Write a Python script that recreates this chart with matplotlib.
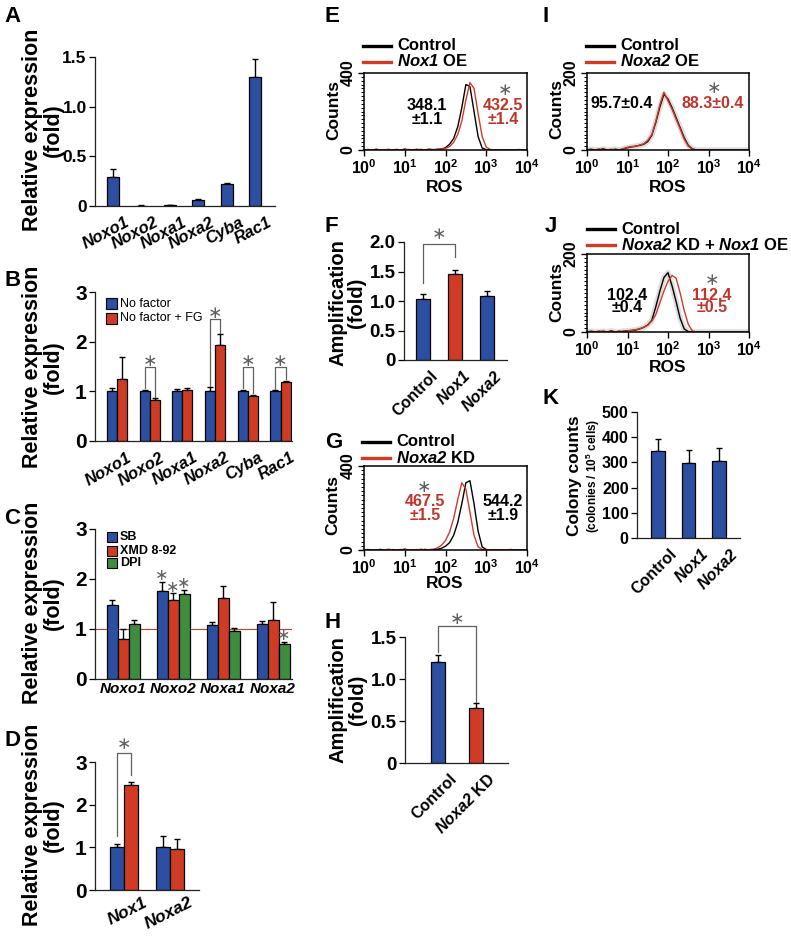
import matplotlib
matplotlib.use("Agg")
import numpy as np
import matplotlib.pyplot as plt
import matplotlib.transforms as mtransforms
from matplotlib.lines import Line2D
from matplotlib.patches import Rectangle
from matplotlib.ticker import MultipleLocator, LogLocator, NullFormatter

plt.rcParams['font.family'] = ['Liberation Sans', 'DejaVu Sans']
plt.rcParams['font.weight'] = 'bold'
plt.rcParams['mathtext.fontset'] = 'custom'
plt.rcParams['mathtext.rm'] = 'Liberation Sans:bold'
plt.rcParams['mathtext.bf'] = 'Liberation Sans:bold'
plt.rcParams['mathtext.it'] = 'Liberation Sans:italic:bold'
plt.rcParams['mathtext.sf'] = 'Liberation Sans:italic:bold'

BLUE = '#2d4fa1'
RED = '#d03b26'
GREEN = '#3e8d3e'
TXT_RED = '#c0352a'
STAR = '#606060'

# ---------------- data ----------------
A_genes = ['Noxo1', 'Noxo2', 'Noxa1', 'Noxa2', 'Cyba', 'Rac1']
A_vals = [0.29, 0.005, 0.01, 0.06, 0.22, 1.30]
A_err = [0.08, 0.003, 0.004, 0.01, 0.01, 0.18]

B_genes = ['Noxo1', 'Noxo2', 'Noxa1', 'Noxa2', 'Cyba', 'Rac1']
B_nofactor = [1.0, 1.0, 1.0, 1.0, 1.0, 1.0]
B_nofactor_err = [0.06, 0.03, 0.04, 0.08, 0.03, 0.02]
B_fg = [1.25, 0.83, 1.02, 1.93, 0.91, 1.18]
B_fg_err = [0.44, 0.03, 0.04, 0.22, 0.02, 0.03]
B_sig = [1, 3, 4, 5]
B_sig_top = [1.5, 2.45, 1.5, 1.5]

C_genes = ['Noxo1', 'Noxo2', 'Noxa1', 'Noxa2']
C_sb = [1.49, 1.76, 1.09, 1.10]
C_sb_err = [0.10, 0.18, 0.05, 0.07]
C_xmd = [0.81, 1.58, 1.63, 1.18]
C_xmd_err = [0.19, 0.14, 0.23, 0.36]
C_dpi = [1.11, 1.71, 0.97, 0.70]
C_dpi_err = [0.08, 0.07, 0.06, 0.04]

D_genes = ['Nox1', 'Noxa2']
D_ctrl = [1.0, 1.0]
D_ctrl_err = [0.08, 0.27]
D_oe = [2.46, 0.96]
D_oe_err = [0.08, 0.23]

F_groups = ['Control', 'Nox1', 'Noxa2']
F_vals = [1.03, 1.45, 1.08]
F_err = [0.09, 0.08, 0.09]

H_groups = ['Control', 'Noxa2 KD']
H_vals = [1.20, 0.65]
H_err = [0.08, 0.07]

K_groups = ['Control', 'Nox1', 'Noxa2']
K_vals = [345, 296, 307]
K_err = [47, 55, 52]

ros_log = [0.0, 0.1, 0.2, 0.3, 0.4, 0.5, 0.6, 0.7, 0.8, 0.9,
           1.0, 1.1, 1.2, 1.3, 1.4, 1.5, 1.6, 1.7, 1.8, 1.9,
           2.0, 2.1, 2.2, 2.3, 2.4, 2.5, 2.6, 2.7, 2.8, 2.9,
           3.0, 3.1, 3.2, 3.3, 3.4, 3.5, 3.6, 3.7, 3.8, 3.9, 4.0]

E_ctrl = [3, 0, 0, 4, 0, 2, 0, 0, 3, 0, 5, 0, 2, 0, 3, 0, 4, 2, 3, 5,
          12, 30, 60, 120, 220, 340, 330, 200, 70, 10,
          2, 0, 0, 0, 0, 0, 0, 0, 0, 0, 0]
E_oe = [0, 3, 0, 0, 2, 0, 4, 0, 0, 2, 0, 3, 0, 5, 0, 2, 3, 0, 4, 5,
        8, 18, 40, 80, 150, 260, 350, 320, 190, 70,
        15, 3, 0, 0, 2, 0, 0, 0, 3, 0, 0]

G_ctrl = [0, 2, 0, 0, 3, 0, 0, 2, 0, 0, 4, 0, 0, 2, 0, 3, 0, 0, 3, 8,
          18, 35, 70, 130, 220, 320, 330, 220, 90, 15,
          2, 0, 0, 0, 0, 0, 0, 0, 0, 0, 0]
G_kd = [3, 0, 0, 2, 0, 0, 4, 0, 0, 3, 0, 0, 2, 0, 4, 0, 2, 4, 10, 22,
        45, 85, 150, 240, 320, 290, 180, 70, 15, 3,
        0, 0, 2, 0, 0, 0, 3, 0, 0, 0, 0]

I_ctrl = [0, 2, 0, 0, 3, 0, 0, 2, 0, 3,
          6, 8, 10, 12, 15, 22, 38, 72, 112, 145,
          132, 110, 84, 58, 32, 12, 3, 0, 0, 0,
          0, 0, 0, 0, 0, 0, 0, 0, 0, 0, 0]
I_oe = [2, 0, 0, 3, 0, 0, 2, 0, 0, 4,
        7, 9, 9, 13, 16, 25, 40, 75, 118, 150,
        128, 106, 80, 55, 28, 10, 2, 0, 0, 0,
        0, 0, 0, 0, 0, 0, 0, 0, 0, 0, 0]

J_ctrl = [0, 2, 0, 0, 2, 0, 3, 0, 0, 2,
          3, 4, 5, 8, 12, 18, 30, 65, 105, 140,
          152, 118, 78, 35, 8, 1, 0, 0, 0, 0,
          0, 0, 0, 0, 0, 0, 0, 0, 0, 0, 0]
J_kd = [2, 0, 0, 3, 0, 0, 2, 0, 3, 0,
        3, 4, 6, 8, 12, 18, 28, 45, 75, 105,
        130, 145, 138, 100, 55, 20, 3, 0, 0, 0,
        0, 0, 0, 0, 0, 0, 0, 0, 0, 0, 0]

# ---------------- layout helpers ----------------
W, H = 791, 936
fig = plt.figure(figsize=(W / 100, H / 100), dpi=100)


def fx(x):
    return x / W


def fy(y):
    return 1 - y / H


def px_axes(x0, y0, x1, y1):
    return fig.add_axes([x0 / W, 1 - y1 / H, (x1 - x0) / W, (y1 - y0) / H])


def bar_axes(x0, x1, y_top, y_zero, first, step, ymax):
    ax = px_axes(x0, y_top, x1, y_zero)
    ax.set_xlim((x0 - first) / step, (x1 - first) / step)
    ax.set_ylim(0, ymax)
    for s in ['top', 'right']:
        ax.spines[s].set_visible(False)
    for s in ['left', 'bottom']:
        ax.spines[s].set_color('#222222')
        ax.spines[s].set_linewidth(0.9)
    ax.tick_params(axis='x', length=0)
    ax.tick_params(axis='y', direction='out', length=4, width=0.9, pad=2)
    return ax


def shift_labels(ax, dx, dy=0):
    off = mtransforms.ScaledTranslation(dx / 100, dy / 100, fig.dpi_scale_trans)
    for lab in ax.get_xticklabels():
        lab.set_transform(lab.get_transform() + off)


def star_fig(x, y):
    fig.text(fx(x), fy(y), '\u2217', ha='center', va='center', fontsize=12.5,
             color=STAR, family='DejaVu Sans', fontweight='normal')


def star(ax, x, y, size=12.5):
    ax.text(x, y, '\u2217', ha='center', va='center', fontsize=size,
            color=STAR, family='DejaVu Sans', fontweight='normal',
            clip_on=False)


def bracket(ax, x1, x2, y1, y2, top):
    ax.plot([x1, x1, x2, x2], [y1, top, top, y2], color=STAR, lw=0.9,
            clip_on=False)


def ebar(ax, x, y, e):
    ax.errorbar(x, y, yerr=[np.zeros(len(y)), e], fmt='none', ecolor='black',
                elinewidth=1.0, capsize=2.2, capthick=1.0, zorder=1)


def ylab(x, y, text, size=15.5):
    fig.text(fx(x), fy(y), text, rotation=90, ha='center', va='center',
             fontsize=size, multialignment='center', linespacing=1.0)


def letter(x, y, t):
    fig.text(fx(x), fy(y), t, fontsize=16, ha='left', va='center')


def italic(name):
    return r'$\mathsf{' + name + '}$'


# ---------------- A ----------------
ax = bar_axes(95, 275, 57, 206, 113, 28.4, 1.5)
xa = np.arange(len(A_genes))
ebar(ax, xa, A_vals, A_err)
ax.bar(xa, A_vals, width=0.42, color=BLUE, edgecolor='black', lw=0.9, zorder=2)
ax.set_yticks([0, 0.5, 1.0, 1.5], ['0', '0.5', '1.0', '1.5'], fontsize=12.5)
ax.set_xticks(xa, A_genes, rotation=28, ha='right', va='top',
              rotation_mode='anchor', fontsize=12, fontstyle='italic')
shift_labels(ax, 12, -4)
ylab(43, 130, 'Relative expression\n(fold)')
letter(4, 16, 'A')

# ---------------- B ----------------
ax = bar_axes(95, 292, 292, 441, 117, 32.7, 3)
xb = np.arange(len(B_genes))
off = 0.153
ebar(ax, xb - off, B_nofactor, B_nofactor_err)
ebar(ax, xb + off, B_fg, B_fg_err)
ax.bar(xb - off, B_nofactor, width=0.306, color=BLUE, edgecolor='black', lw=0.9, zorder=2)
ax.bar(xb + off, B_fg, width=0.306, color=RED, edgecolor='black', lw=0.9, zorder=2)
for i, top in zip(B_sig, B_sig_top):
    bracket(ax, i - off, i + off, B_nofactor[i] + B_nofactor_err[i] + 0.03,
            B_fg[i] + B_fg_err[i] + 0.03, top)
    star(ax, i, top + 0.12)
ax.set_yticks([0, 1, 2, 3], ['0', '1', '2', '3'], fontsize=15)
ax.set_xticks(xb, B_genes, rotation=30, ha='right', va='top',
              rotation_mode='anchor', fontsize=12, fontstyle='italic')
shift_labels(ax, 10, -4)
ylab(43, 367, 'Relative expression\n(fold)')
letter(4, 280, 'B')
for yy, col, lab in [(304, BLUE, 'No factor'), (318, RED, 'No factor + FG')]:
    fig.add_artist(Rectangle((fx(106), fy(yy + 5.5)), 11 / W, 11 / H,
                             transform=fig.transFigure, facecolor=col,
                             edgecolor='black', lw=0.8))
    fig.text(fx(120), fy(yy), lab, fontsize=9, fontweight='normal',
             va='center')

# ---------------- C ----------------
ax = bar_axes(95, 292, 529, 679, 123, 50, 3)
xc = np.arange(len(C_genes))
dc = 0.22
ax.axhline(1, color=RED, lw=0.8, zorder=0)
ebar(ax, xc - dc, C_sb, C_sb_err)
ebar(ax, xc, C_xmd, C_xmd_err)
ebar(ax, xc + dc, C_dpi, C_dpi_err)
ax.bar(xc - dc, C_sb, width=0.22, color=BLUE, edgecolor='black', lw=0.9, zorder=2)
ax.bar(xc, C_xmd, width=0.22, color=RED, edgecolor='black', lw=0.9, zorder=2)
ax.bar(xc + dc, C_dpi, width=0.22, color=GREEN, edgecolor='black', lw=0.9, zorder=2)
star(ax, 1 - dc, C_sb[1] + C_sb_err[1] + 0.13, 11.5)
star(ax, 1, C_xmd[1] + C_xmd_err[1] + 0.12, 11.5)
star(ax, 1 + dc, C_dpi[1] + C_dpi_err[1] + 0.13, 11.5)
star(ax, 3 + dc, C_dpi[3] + C_dpi_err[3] + 0.13, 11.5)
ax.set_yticks([0, 1, 2, 3], ['0', '1', '2', '3'], fontsize=15)
ax.set_xticks(xc, C_genes, fontsize=11, fontstyle='italic')
ax.tick_params(axis='x', pad=2)
ylab(43, 603, 'Relative expression\n(fold)')
letter(4, 518, 'C')
for yy, col, lab in [(537, BLUE, 'SB'), (551, RED, 'XMD 8-92'), (563, GREEN, 'DPI')]:
    fig.add_artist(Rectangle((fx(107), fy(yy + 5)), 10 / W, 10 / H,
                             transform=fig.transFigure, facecolor=col,
                             edgecolor='black', lw=0.8))
    fig.text(fx(120), fy(yy), lab, fontsize=9, va='center')

# ---------------- D ----------------
ax = bar_axes(95, 199, 762, 890, 124, 46, 3)
xd = np.arange(len(D_genes))
dd = 0.152
ebar(ax, xd - dd, D_ctrl, D_ctrl_err)
ebar(ax, xd + dd, D_oe, D_oe_err)
ax.bar(xd - dd, D_ctrl, width=0.304, color=BLUE, edgecolor='black', lw=0.9, zorder=2)
ax.bar(xd + dd, D_oe, width=0.304, color=RED, edgecolor='black', lw=0.9, zorder=2)
bracket(ax, -dd, dd, D_ctrl[0] + D_ctrl_err[0] + 0.18, D_oe[0] + D_oe_err[0] + 0.15, 3.2)
star(ax, 0, 3.42)
ax.set_yticks([0, 1, 2, 3], ['0', '1', '2', '3'], fontsize=15)
ax.set_xticks(xd, D_genes, rotation=27, ha='right', va='top',
              rotation_mode='anchor', fontsize=12.5, fontstyle='italic')
shift_labels(ax, 19, 0)
ylab(43, 825, 'Relative expression\n(fold)')
letter(4, 740, 'D')


# ---------------- histograms ----------------
def hist_axes(x0, x1, y_top, y_zero, ymax, minor):
    ax = px_axes(x0, y_top, x1, y_zero)
    ax.set_xscale('log')
    ax.set_xlim(1, 1e4)
    ax.set_ylim(0, ymax)
    for s in ax.spines.values():
        s.set_linewidth(1.1)
        s.set_color('black')
    ax.set_xticks([1, 10, 100, 1000, 10000],
                  [r'$\mathbf{10^{0}}$', r'$\mathbf{10^{1}}$', r'$\mathbf{10^{2}}$',
                   r'$\mathbf{10^{3}}$', r'$\mathbf{10^{4}}$'], fontsize=11.5)
    ax.xaxis.set_minor_locator(LogLocator(base=10, subs=np.arange(2, 10)))
    ax.xaxis.set_minor_formatter(NullFormatter())
    ax.set_yticks([0, ymax], ['0', str(ymax)], fontsize=11.5)
    ax.yaxis.set_minor_locator(MultipleLocator(minor))
    for lab in ax.get_yticklabels():
        lab.set_rotation(90)
        lab.set_va('center')
    ax.tick_params(which='major', direction='out', length=4, width=1.0, pad=2)
    ax.tick_params(which='minor', direction='out', length=2, width=0.7)
    return ax


def hist_legend(x0, y0, labels, color2=RED):
    for k, (lab, col) in enumerate(zip(labels, ['black', color2])):
        yy = y0 + 15.5 * k
        fig.add_artist(Line2D([fx(x0), fx(x0 + 28)], [fy(yy), fy(yy)],
                              transform=fig.transFigure, color=col, lw=2.4))
        fig.text(fx(x0 + 34), fy(yy), lab, fontsize=12, va='center')


def two_line(x, y, top, bottom, color='black', gap=15):
    fig.text(fx(x), fy(y), top, ha='center', va='center', fontsize=11.5, color=color)
    fig.text(fx(x), fy(y + gap), bottom, ha='center', va='center', fontsize=11.5,
             color=color)


ros = 10.0 ** np.array(ros_log)

# E
ax = hist_axes(364, 527, 73, 150, 400, 20)
ax.plot(ros, E_ctrl, color='black', lw=1.0)
ax.plot(ros, E_oe, color=RED, lw=1.0)
two_line(427, 105, '348.1', '\u00b11.1')
two_line(503, 105, '432.5', '\u00b11.4', TXT_RED)
star_fig(505, 90)
fig.text(fx(334), fy(110), 'Counts', rotation=90, ha='center', va='center', fontsize=12.5)
fig.text(fx(445), fy(187), 'ROS', ha='center', va='center', fontsize=12.5)
hist_legend(363, 46, ['Control', italic('Nox1') + ' OE'])
letter(325, 16, 'E')

# G
ax = hist_axes(364, 527, 466, 550, 400, 20)
ax.plot(ros, G_ctrl, color='black', lw=1.0)
ax.plot(ros, G_kd, color=RED, lw=1.0)
two_line(425, 501, '467.5', '\u00b11.5', TXT_RED)
two_line(503, 501, '544.2', '\u00b11.9')
star_fig(424, 487)
fig.text(fx(333), fy(505), 'Counts', rotation=90, ha='center', va='center', fontsize=12.5)
fig.text(fx(445), fy(583), 'ROS', ha='center', va='center', fontsize=12.5)
hist_legend(362, 442, ['Control', italic('Noxa2') + ' KD'])
letter(325, 442, 'G')

# I
ax = hist_axes(587, 749, 73, 150, 200, 10)
ax.plot(ros, I_ctrl, color='#dddddd', lw=4, zorder=0)
ax.plot(ros, I_ctrl, color='black', lw=1.0)
ax.plot(ros, I_oe, color=RED, lw=1.0)
fig.text(fx(622), fy(103), '95.7\u00b10.4', ha='center', va='center', fontsize=11.5)
fig.text(fx(713), fy(103), '88.3\u00b10.4', ha='center', va='center', fontsize=11.5, color=TXT_RED)
star_fig(714, 88)
fig.text(fx(557), fy(109), 'Counts', rotation=90, ha='center', va='center', fontsize=12.5)
fig.text(fx(668), fy(187), 'ROS', ha='center', va='center', fontsize=12.5)
hist_legend(586, 46, ['Control', italic('Noxa2') + ' OE'])
letter(543, 16, 'I')

# J
ax = hist_axes(587, 749, 254, 332, 200, 10)
ax.plot(ros, J_ctrl, color='#dddddd', lw=4, zorder=0)
ax.plot(ros, J_ctrl, color='black', lw=1.0)
ax.plot(ros, J_kd, color=RED, lw=1.0)
two_line(627, 295, '102.4', '\u00b10.4', gap=13)
two_line(712, 295, '112.4', '\u00b10.5', TXT_RED, gap=13)
star_fig(712, 280)
fig.text(fx(557), fy(292), 'Counts', rotation=90, ha='center', va='center', fontsize=12.5)
fig.text(fx(668), fy(367), 'ROS', ha='center', va='center', fontsize=12.5)
hist_legend(587, 229, ['Control', italic('Noxa2') + ' KD + ' + italic('Nox1') + ' OE'])
letter(545, 227, 'J')

# ---------------- F ----------------
ax = bar_axes(404, 507, 242, 360, 423, 32, 2.0)
xf = np.arange(len(F_groups))
ebar(ax, xf, F_vals, F_err)
ax.bar(xf, F_vals, width=0.41, color=[BLUE, RED, BLUE], edgecolor='black', lw=0.9, zorder=2)
bracket(ax, 0, 1, F_vals[0] + F_err[0] + 0.18, F_vals[1] + F_err[1] + 0.22, 1.97)
star(ax, 0.5, 2.13)
ax.set_yticks([0, 0.5, 1.0, 1.5, 2.0], ['0', '0.5', '1.0', '1.5', '2.0'], fontsize=13.5)
ax.set_xticks(xf, ['Control', italic('Nox1'), italic('Noxa2')], rotation=45,
              ha='right', va='top', rotation_mode='anchor', fontsize=11.5)
shift_labels(ax, 7, -3)
ylab(347, 303, 'Amplification\n(fold)', size=14.5)
letter(325, 227, 'F')

# ---------------- H ----------------
ax = bar_axes(405, 508, 637, 763, 438, 38, 1.5)
xh = np.arange(len(H_groups))
ebar(ax, xh, H_vals, H_err)
ax.bar(xh, H_vals, width=0.39, color=[BLUE, RED], edgecolor='black', lw=0.9, zorder=2)
bracket(ax, 0, 1, H_vals[0] + H_err[0] + 0.04, H_vals[1] + H_err[1] + 0.01, 1.63)
star(ax, 0.5, 1.72)
ax.set_yticks([0, 0.5, 1.0, 1.5], ['0', '0.5', '1.0', '1.5'], fontsize=13.5)
ax.set_xticks(xh, ['Control', italic('Noxa2') + ' KD'], rotation=45,
              ha='right', va='top', rotation_mode='anchor', fontsize=11.5)
shift_labels(ax, 11, -3)
ylab(348, 700, 'Amplification\n(fold)', size=14.5)
letter(325, 622, 'H')

# ---------------- K ----------------
ax = bar_axes(637, 740, 412, 538, 658, 30.5, 500)
xk = np.arange(len(K_groups))
ebar(ax, xk, K_vals, K_err)
ax.bar(xk, K_vals, width=0.43, color=BLUE, edgecolor='black', lw=0.9, zorder=2)
ax.set_yticks([0, 100, 200, 300, 400, 500], ['0', '100', '200', '300', '400', '500'],
              fontsize=11.5)
ax.set_xticks(xk, ['Control', italic('Nox1'), italic('Noxa2')], rotation=45,
              ha='right', va='top', rotation_mode='anchor', fontsize=11.5)
shift_labels(ax, 11, -3)
fig.text(fx(575), fy(476), 'Colony counts', rotation=90, ha='center', va='center', fontsize=12.5)
fig.text(fx(593), fy(476), r'(colonies / 10$^{5}$ cells)', rotation=90, ha='center',
         va='center', fontsize=8.5)
letter(543, 398, 'K')

fig.savefig('out.png', dpi=100)
